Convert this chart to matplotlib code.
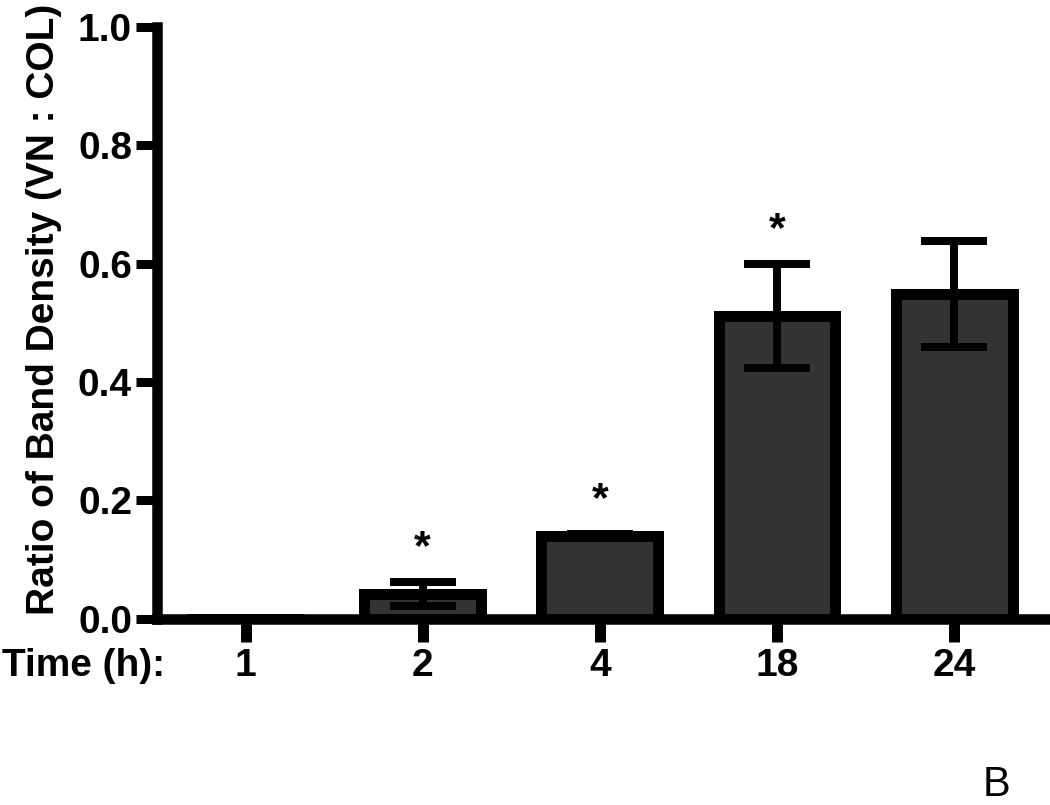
import matplotlib
matplotlib.use("Agg")
import matplotlib.pyplot as plt
from matplotlib import transforms

# ---- data ----
time_labels = ["1", "2", "4", "18", "24"]
ratio_mean = [0.0, 0.041, 0.140, 0.512, 0.549]
ratio_sem = [0.0, 0.020, 0.003, 0.088, 0.090]
significant = [False, True, True, True, False]
y_ticks = [0.0, 0.2, 0.4, 0.6, 0.8, 1.0]

plt.rcParams['font.family'] = ['Liberation Sans', 'DejaVu Sans']
plt.rcParams['font.weight'] = 'bold'

DPI = 100
FS = 28
fig = plt.figure(figsize=(10.5, 8.05), dpi=DPI)
ax = fig.add_axes([157 / 1050, (805 - 618.5) / 805,
                   (1048 - 157) / 1050, (618.5 - 27) / 805])

px = 72.0 / DPI  # points per pixel
x = list(range(len(time_labels)))

ax.bar(x, ratio_mean, width=0.66, color="#333333", edgecolor="black",
       linewidth=11 * px, zorder=2)
ax.errorbar(x, ratio_mean, yerr=ratio_sem, fmt="none", ecolor="black",
            elinewidth=8 * px, capsize=33.5 * px, capthick=8 * px, zorder=3)

for xi, m, e, s in zip(x, ratio_mean, ratio_sem, significant):
    if s:
        ax.annotate("*", xy=(xi, m + e), xytext=(0, 16.5), textcoords="offset points",
                    ha="center", va="baseline", fontsize=31, fontweight="bold")

ax.set_xlim(-0.5, 4.53)
ax.set_ylim(0, 1.0)
ax.set_yticks(y_ticks)
ax.set_yticklabels([f"{v:.1f}" for v in y_ticks])
ax.set_xticks(x)
ax.set_xticklabels(time_labels)

for side in ["top", "right"]:
    ax.spines[side].set_visible(False)
for side in ["left", "bottom"]:
    ax.spines[side].set_linewidth(10.5 * px)
    ax.spines[side].set_zorder(4)

ax.tick_params(axis="y", length=21 * px, width=9 * px, pad=4 * px,
               labelsize=FS, direction="out")
ax.tick_params(axis="x", length=23 * px, width=11 * px, pad=6 * px,
               labelsize=FS, direction="out")
for lab in ax.get_xticklabels() + ax.get_yticklabels():
    lab.set_fontweight("bold")

# "Time (h):" aligned with the x tick labels
trans = transforms.blended_transform_factory(fig.transFigure, ax.transAxes)
trans = transforms.offset_copy(trans, fig=fig, y=-(23 * px + 6 * px), units="points")
ax.text(2 / 1050, 0, "Time (h):", transform=trans, ha="left", va="top",
        fontsize=FS, fontweight="bold", clip_on=False)

fig.text(44 / 1050, 1 - 309 / 805, "Ratio of Band Density (VN : COL)",
         rotation=90, ha="center", va="center", fontsize=FS, fontweight="bold")

fig.text(983 / 1050, 0.5 / 805, "B", ha="left", va="bottom", fontsize=30,
         fontweight="normal")

fig.savefig("out.png", dpi=DPI)
